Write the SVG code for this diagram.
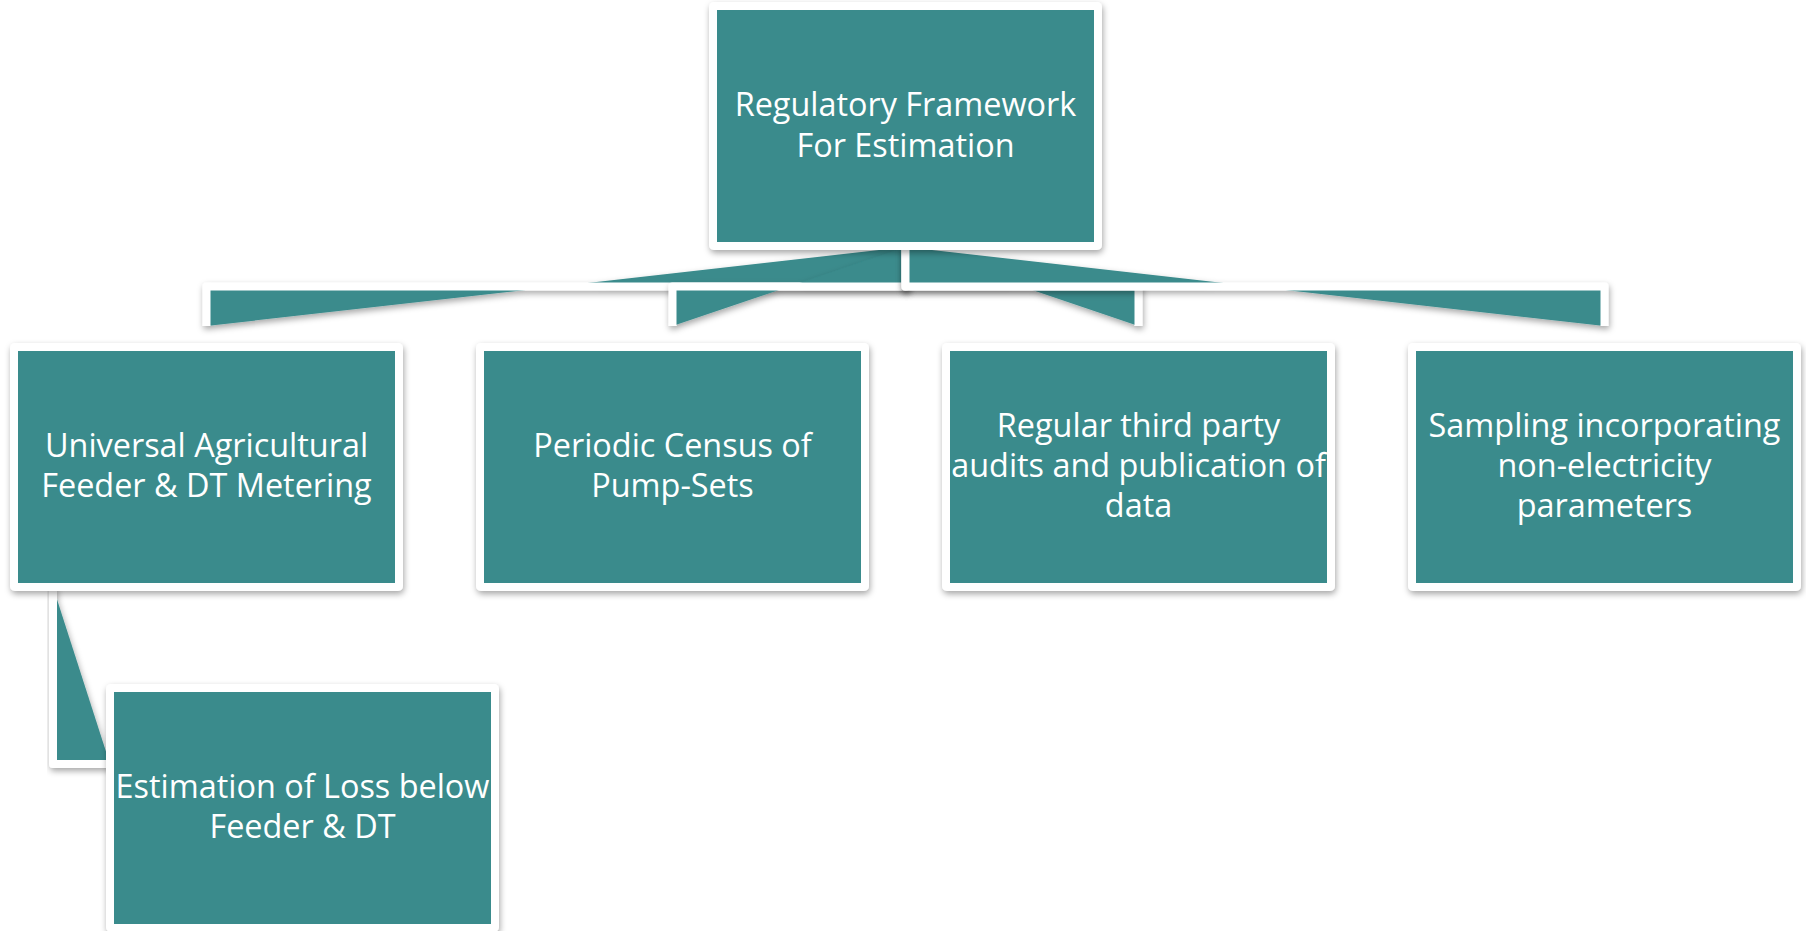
<svg xmlns="http://www.w3.org/2000/svg" width="1806" height="931" viewBox="0 0 1806 931">
  <defs>
    <filter id="shadow" x="-10%" y="-10%" width="120%" height="130%">
      <feDropShadow dx="1" dy="3" stdDeviation="3" flood-color="#000" flood-opacity="0.35"/>
    </filter>
    <style>
      .frame { fill: #ffffff; filter: url(#shadow); }
      .body { fill: #3a8b8c; }
      .link { fill: #3a8b8c; stroke: #ffffff; stroke-width: 8; stroke-linejoin: round; stroke-linecap: butt; filter: url(#shadow); }
      .label { fill: #ffffff; font-family: "Open Sans", "Noto Sans", "Liberation Sans", sans-serif; font-size: 32.4px; text-anchor: middle; }
    </style>
  </defs>
  <rect width="1806" height="931" fill="#ffffff"/>

  <!-- elbow connectors, filled between the bend and the closing diagonal -->
  <g id="connectors">
    <path class="link" d="M905.5,247 L905.5,286.5 L206.5,286.5 L206.5,326"/>
    <path class="link" d="M905.5,247 L905.5,286.5 L672.5,286.5 L672.5,326"/>
    <path class="link" d="M905.5,247 L905.5,286.5 L1138.5,286.5 L1138.5,326"/>
    <path class="link" d="M905.5,247 L905.5,286.5 L1604.5,286.5 L1604.5,326"/>
    <path class="link" d="M53,587 L53,764 L110,764"/>
  </g>

  <g id="node-root">
    <rect class="frame" x="709" y="2" width="393" height="248" rx="5"/>
    <rect class="body" x="717" y="10" width="377" height="232"/>
    <text class="label" x="905.5" y="116">Regulatory Framework</text>
    <text class="label" x="905.5" y="156.5">For Estimation</text>
  </g>

  <g id="node-metering">
    <rect class="frame" x="10" y="343" width="393" height="248" rx="5"/>
    <rect class="body" x="18" y="351" width="377" height="232"/>
    <text class="label" x="206.5" y="457">Universal Agricultural</text>
    <text class="label" x="206.5" y="497">Feeder &amp; DT Metering</text>
  </g>

  <g id="node-census">
    <rect class="frame" x="476" y="343" width="393" height="248" rx="5"/>
    <rect class="body" x="484" y="351" width="377" height="232"/>
    <text class="label" x="672.5" y="457">Periodic Census of</text>
    <text class="label" x="672.5" y="497">Pump-Sets</text>
  </g>

  <g id="node-audits">
    <rect class="frame" x="942" y="343" width="393" height="248" rx="5"/>
    <rect class="body" x="950" y="351" width="377" height="232"/>
    <text class="label" x="1138.5" y="437">Regular third party</text>
    <text class="label" x="1138.5" y="477">audits and publication of</text>
    <text class="label" x="1138.5" y="517">data</text>
  </g>

  <g id="node-sampling">
    <rect class="frame" x="1408" y="343" width="393" height="248" rx="5"/>
    <rect class="body" x="1416" y="351" width="377" height="232"/>
    <text class="label" x="1604.5" y="437">Sampling incorporating</text>
    <text class="label" x="1604.5" y="477">non-electricity</text>
    <text class="label" x="1604.5" y="517">parameters</text>
  </g>

  <g id="node-loss">
    <rect class="frame" x="106" y="684" width="393" height="248" rx="5"/>
    <rect class="body" x="114" y="692" width="377" height="232"/>
    <text class="label" x="302.5" y="798">Estimation of Loss below</text>
    <text class="label" x="302.5" y="838">Feeder &amp; DT</text>
  </g>
</svg>
